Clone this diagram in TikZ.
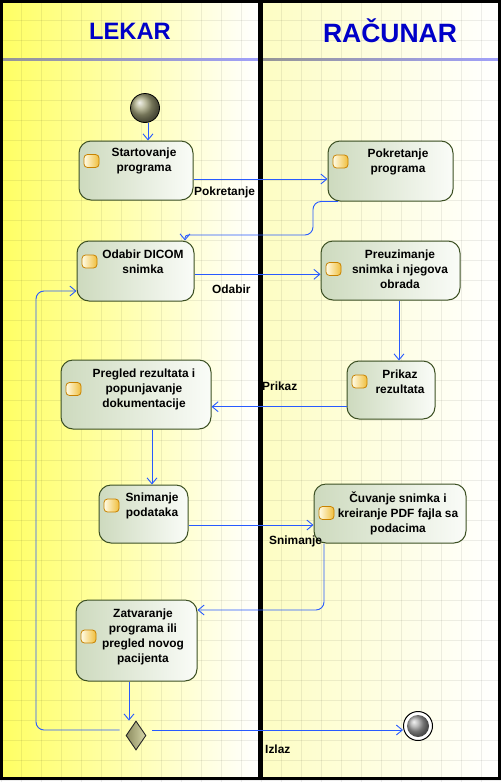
\documentclass[tikz,border=0pt]{standalone}
\usepackage{fontspec}
\setmainfont{Liberation Sans}
\usetikzlibrary{arrows.meta,shapes.geometric,calc}

\definecolor{flow}{RGB}{40,90,255}
\definecolor{actborder}{RGB}{60,80,35}
\definecolor{actleft}{RGB}{205,218,190}
\definecolor{actright}{RGB}{250,252,248}
\definecolor{iconborder}{RGB}{200,130,0}
\definecolor{iconleft}{RGB}{255,252,230}
\definecolor{iconright}{RGB}{240,190,60}
\definecolor{laneyellow}{RGB}{255,255,100}
\definecolor{lanepale}{RGB}{253,253,195}
\definecolor{headblue}{RGB}{0,0,200}
\definecolor{sepgray}{RGB}{150,150,150}
\definecolor{seplav}{RGB}{160,160,250}
\definecolor{startolive}{RGB}{165,165,125}
\definecolor{endgray}{RGB}{165,165,165}
\definecolor{decdark}{RGB}{140,140,95}
\definecolor{declight}{RGB}{215,215,170}

\newcommand\activity[8]{%
  \node[act, minimum width={#4-#2}, minimum height={#5-#3}] (#1) at ({(#2+#4)/2},{(#3+#5)/2}) {};
  \node[icon] (#1i) at ({#2+12.5},#7) {};
  \node[txt] (#1t) at (#6,#7) {#8};
}

\begin{document}
\begin{tikzpicture}[x=1pt,y=-1pt,
  act/.style={draw=actborder, line width=1pt, rounded corners=12pt, left color=actleft, right color=actright, inner sep=0pt},
  txt/.style={font=\fontsize{11.9}{15}\selectfont\bfseries, align=center, inner sep=0pt},
  lbl/.style={font=\fontsize{11.9}{15}\selectfont\bfseries, anchor=west, inner sep=0pt},
  arr/.style={draw=flow, line width=0.9pt, -{Straight Barb[length=6pt,width=10pt]}},
  icon/.style={draw=iconborder, line width=0.8pt, rounded corners=3.5pt, left color=iconleft, right color=iconright, minimum width=15pt, minimum height=13pt, inner sep=0pt},
  gridline/.style={draw=black, opacity=0.07, line width=0.8pt},
  head/.style={text=headblue, anchor=base, inner sep=0pt},
]
\useasboundingbox (0,0) rectangle (501,782);
\fill[white] (0,0) rectangle (501,782);
% lanes
\fill[left color=laneyellow, right color=white] (3,3) rectangle (258,777);
\fill[left color=lanepale, right color=white] (263,3) rectangle (498,777);
% grid
\foreach \x in {1,21,...,481} \draw[gridline] (\x,0) -- (\x,782);
\foreach \y in {20,40,...,780} \draw[gridline] (0,\y) -- (501,\y);
% header separators
\fill[left color=sepgray, right color=seplav] (3,58.3) rectangle (258,60.7);
\fill[left color=sepgray, right color=seplav] (263,58.3) rectangle (498,60.7);
% borders
\fill[black] (0,0) rectangle (501,3);
\fill[black] (0,0) rectangle (3,779.5);
\fill[black] (498,0) rectangle (501,779.5);
\fill[black] (0,777) rectangle (501,779.5);
\fill[black] (258.3,0) rectangle (263.3,779.5);
% headers
\node[head, font=\fontsize{23.7}{28}\selectfont\bfseries] (h1) at (130,39.3) {LEKAR};
\node[head, font=\fontsize{26.5}{30}\selectfont\bfseries] (h2) at (390,42.3) {RAČUNAR};

% activities
\activity{n1}{79}{141}{193}{200}{144}{161}{Startovanje\\programa}
\activity{n2}{328}{141}{453}{201}{398}{161.5}{Pokretanje\\programa}
\activity{n3}{77}{241}{194}{301}{143}{261.5}{Odabir DICOM\\snimka}
\activity{n4}{321}{241}{460}{300}{400}{269}{Preuzimanje\\snimka i njegova\\obrada}
\activity{n5}{347}{361}{435}{419}{400}{381.5}{Prikaz\\rezultata}
\activity{n6}{61}{360}{211}{429}{144}{389}{Pregled rezultata i\\popunjavanje\\dokumentacije}
\activity{n7}{99}{485}{188}{543}{152}{505.5}{Snimanje\\podataka}
\activity{n8}{314}{484}{466}{543}{398}{513}{Čuvanje snimka i\\kreiranje PDF fajla sa\\podacima}
\activity{n9}{76}{600}{197}{681}{143}{636.5}{Zatvaranje\\programa ili\\pregled novog\\pacijenta}

% start, decision, end
\node[circle, draw=black, line width=0.8pt, ball color=startolive, minimum size=29pt, inner sep=0pt] (start) at (145,108) {};
\node[diamond, draw=black!85, line width=0.9pt, left color=decdark, right color=declight, minimum width=20pt, minimum height=29pt, inner sep=0pt] (dec) at (136,735.5) {};
\node[circle, draw=black, line width=1pt, fill=white, minimum size=29pt, inner sep=0pt] (endn) at (418,726) {};
\node[circle, ball color=endgray, minimum size=22pt, inner sep=0pt] (endball) at (endn) {};

% helper coordinates
\coordinate (x148) at (148,0);
\coordinate (x338) at (338,0);
\coordinate (x313) at (313,0);
\coordinate (x185) at (185,0);
\coordinate (x399) at (399,0);
\coordinate (x152) at (152,0);
\coordinate (x324) at (324,0);
\coordinate (x129) at (129,0);
\coordinate (x36) at (36,0);
\coordinate (y179) at (0,179);
\coordinate (y235) at (0,235);
\coordinate (y274) at (0,274.3);
\coordinate (y407) at (0,406.7);
\coordinate (y525) at (0,525);
\coordinate (y610) at (0,610);
\coordinate (y730) at (0,730);
\coordinate (y291) at (0,291);
\coordinate (dl) at ([xshift=-6pt]dec.west);
\coordinate (dr) at ([xshift=6pt]dec.east);

% connectors
\draw[arr] (start.south -| x148) -- (n1.north -| x148);
\draw[arr] (n1.east |- y179) -- (n2.west |- y179);
\draw[arr, rounded corners=8pt] (n2.south -| x338) -| (x313 |- y235) [rounded corners=3pt] -| (n3.north -| x185);
\draw[arr] (n3.east |- y274) -- (n4.west |- y274);
\draw[arr] (n4.south -| x399) -- (n5.north -| x399);
\draw[arr] (n5.west |- y407) -- (n6.east |- y407);
\draw[arr] (n6.south -| x152) -- (n7.north -| x152);
\draw[arr] (n7.east |- y525) -- (n8.west |- y525);
\draw[arr, rounded corners=8pt] (n8.south -| x324) |- (n9.east |- y610);
\draw[arr] (n9.south -| x129) -- (dec.north -| x129);
\draw[arr, rounded corners=8pt] (dl |- y730) -| (x36 |- y291) -- (n3.west |- y291);
\draw[arr] (dr |- y730) -- (endn.west |- y730);

% connector labels
\node[lbl] (lb1) at (194,192) {Pokretanje};
\node[lbl] (lb2) at (212,289) {Odabir};
\node[lbl] (lb3) at (262,386) {Prikaz};
\node[lbl] (lb4) at (269,541) {Snimanje};
\node[lbl] (lb5) at (265,749) {Izlaz};
\end{tikzpicture}
\end{document}
